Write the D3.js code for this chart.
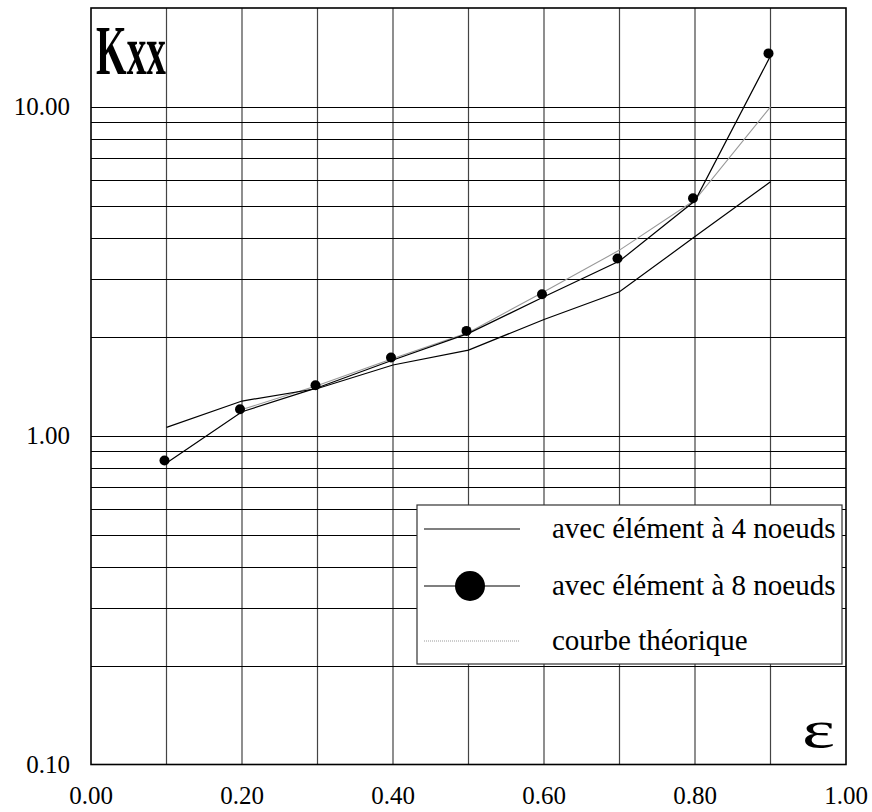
<!DOCTYPE html>
<html><head><meta charset="utf-8">
<script src="https://cdn.jsdelivr.net/npm/d3@7"></script>
<style>body{margin:0;background:#fff}svg{display:block} text{font-family:"Liberation Serif";}</style>
</head><body>
<script>
const epsilon = [0.1, 0.2, 0.3, 0.4, 0.5, 0.6, 0.7, 0.8, 0.9];
const kxx4 = [1.06, 1.275, 1.392, 1.641, 1.822, 2.257, 2.74, 4.035, 5.92];
const kxx8 = [0.826, 1.183, 1.40, 1.699, 2.048, 2.647, 3.399, 5.185, 14.3];
const epsilonTheo = [0.2, 0.3, 0.4, 0.5, 0.6, 0.7, 0.8, 0.9];
const kxxTheo = [1.201, 1.421, 1.717, 2.06, 2.74, 3.67, 5.21, 10.0];
const xTicks = [0, 0.2, 0.4, 0.6, 0.8, 1.0];
const yTicks = [0.1, 1, 10];
const xGrid = [0.1, 0.2, 0.3, 0.4, 0.5, 0.6, 0.7, 0.8, 0.9];
const yGrid = [0.2,0.3,0.4,0.5,0.6,0.7,0.8,0.9,1,2,3,4,5,6,7,8,9,10];
const legendLabels = ["avec élément à 4 noeuds", "avec élément à 8 noeuds", "courbe théorique"];

const W = 872, H = 812;
const x = d3.scaleLinear().domain([0, 1]).range([91, 846]);
const y = d3.scaleLog().domain([0.1, 20]).range([764.5, 8]);

const svg = d3.select("body").append("svg").attr("width", W).attr("height", H);
const font = "Liberation Serif";

// grid
svg.append("g").selectAll("line").data(xGrid).join("line")
  .attr("x1", d => x(d)).attr("x2", d => x(d))
  .attr("y1", y(20)).attr("y2", y(0.1))
  .attr("stroke", "#444").attr("stroke-width", 1.2);
svg.append("g").selectAll("line").data(yGrid).join("line")
  .attr("x1", x(0)).attr("x2", x(1))
  .attr("y1", d => Math.round(y(d)) + 0.5).attr("y2", d => Math.round(y(d)) + 0.5)
  .attr("stroke", "#000").attr("stroke-width", 1);

// border
svg.append("rect").attr("x", x(0)).attr("y", y(20))
  .attr("width", x(1) - x(0)).attr("height", y(0.1) - y(20))
  .attr("fill", "none").attr("stroke", "#000").attr("stroke-width", 1.6);

// axis labels
svg.append("g").selectAll("text").data(yTicks).join("text")
  .attr("x", 70).attr("y", d => y(d)).attr("dy", "0.33em")
  .attr("text-anchor", "end").style("font-family", font).style("font-size", "25px")
  .text(d => d3.format(".2f")(d));
svg.append("g").selectAll("text").data(xTicks).join("text")
  .attr("x", d => x(d)).attr("y", 804)
  .attr("text-anchor", "middle").style("font-family", font).style("font-size", "25px")
  .text(d => d3.format(".2f")(d));

// series
const line = d3.line().x(d => x(d[0])).y(d => y(d[1]));
svg.append("path").datum(epsilonTheo.map((e, i) => [e, kxxTheo[i]]))
  .attr("d", line).attr("fill", "none").attr("stroke", "#999").attr("stroke-width", 1.1);
svg.append("path").datum(epsilon.map((e, i) => [e, kxx4[i]]))
  .attr("d", line).attr("fill", "none").attr("stroke", "#000").attr("stroke-width", 1.2);
svg.append("path").datum(epsilon.map((e, i) => [e, kxx8[i]]))
  .attr("d", line).attr("fill", "none").attr("stroke", "#000").attr("stroke-width", 1.2);
svg.append("g").selectAll("circle").data(epsilon.map((e, i) => [e, kxx8[i]])).join("circle")
  .attr("cx", d => x(d[0]) - 2).attr("cy", d => y(d[1]) - 2.5).attr("r", 5).attr("fill", "#000");

// titles
svg.append("text").attr("x", 96).attr("y", 74)
  .style("font-family", font).style("font-weight", "bold").style("font-size", "70px")
  .attr("textLength", 70).attr("lengthAdjust", "spacingAndGlyphs").text("Kxx");
svg.append("text").attr("x", 802).attr("y", 747)
  .style("font-family", font).style("font-size", "52px")
  .attr("textLength", 33).attr("lengthAdjust", "spacingAndGlyphs").text("ε");

// legend
const lg = svg.append("g");
lg.append("rect").attr("x", 417).attr("y", 505).attr("width", 425).attr("height", 159)
  .attr("fill", "#fff").attr("stroke", "#333").attr("stroke-width", 1.2);
const ly = [529, 586, 641];
lg.append("line").attr("x1", 424).attr("x2", 520).attr("y1", ly[0]).attr("y2", ly[0]).attr("stroke", "#000").attr("stroke-width", 1.2);
lg.append("line").attr("x1", 424).attr("x2", 520).attr("y1", ly[1]).attr("y2", ly[1]).attr("stroke", "#000").attr("stroke-width", 1.2);
lg.append("circle").attr("cx", 470).attr("cy", ly[1]).attr("r", 15).attr("fill", "#000");
lg.append("line").attr("x1", 424).attr("x2", 520).attr("y1", ly[2]).attr("y2", ly[2]).attr("stroke", "#999").attr("stroke-width", 1).attr("stroke-dasharray", "1,1");
lg.selectAll("text.l").data(legendLabels).join("text").attr("class", "l")
  .attr("x", 552).attr("y", (d, i) => ly[i] + 9)
  .style("font-family", font).style("font-size", "29px").text(d => d);
</script>
</body></html>
